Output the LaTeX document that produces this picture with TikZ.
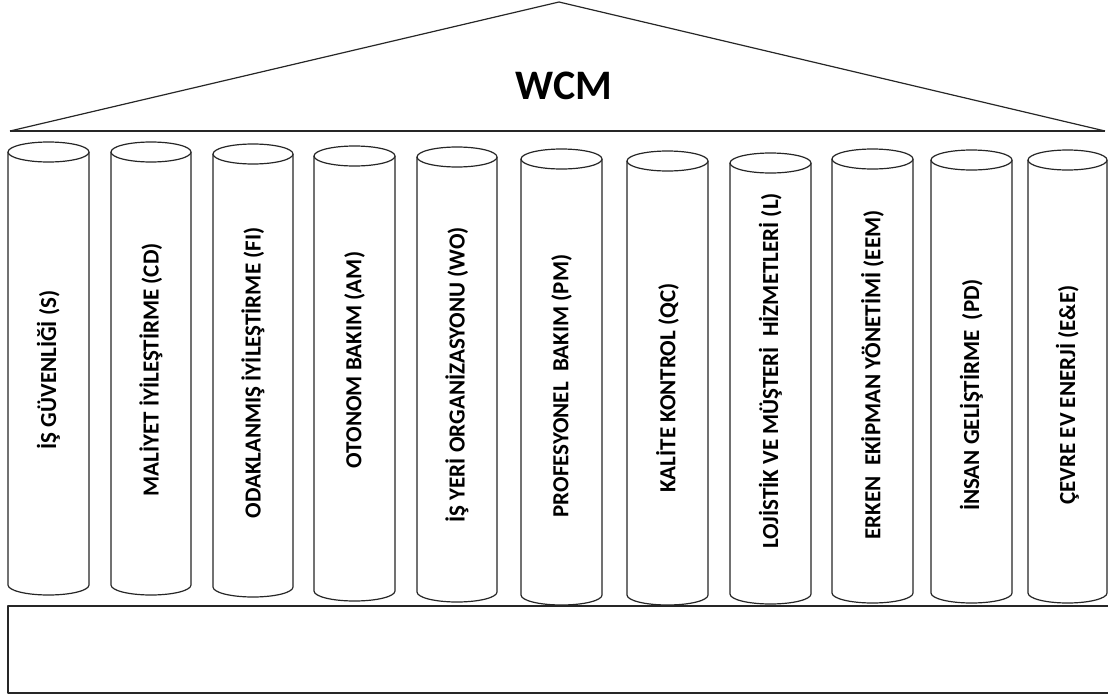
\documentclass[tikz,border=0pt]{standalone}
\usepackage{fontspec}
\setmainfont{Carlito}
\begin{document}
\begin{tikzpicture}[x=1pt, y=-1pt, line width=1.2pt, line join=round,
  pillar/.style={draw=black!85, fill=white},
  roofline/.style={draw=black!85},
  pillarlabel/.style={rotate=90, inner sep=0pt,
    font=\bfseries\fontsize{23}{27}\selectfont},
  titlelabel/.style={inner sep=0pt, font=\bfseries\fontsize{42}{48}\selectfont}]
\useasboundingbox (0,0) rectangle (1108,696);

% roof
\coordinate (apex) at (559,2);
\coordinate (eaveL) at (10,131);
\coordinate (eaveR) at (1105,131);
\draw[roofline] (eaveL) -- (apex) -- (eaveR);
\draw[roofline, line width=1.6pt] (eaveL) -- (eaveR);
\node[titlelabel] (wcm) at (564,86) {WCM};

% pillars: left, right, top rim centre, bottom rim centre, label centre, label
\foreach \n/\xl/\xr/\yt/\yb/\ty/\txt in {
  1/8/89/152/585/370/{İŞ GÜVENLİĞİ (S)},
  2/111/191/152/585/370/{MALİYET İYİLEŞTİRME (CD)},
  3/213/293/154/587/373/{ODAKLANMIŞ İYİLEŞTİRME (FI)},
  4/314/395/156/591/360/{OTONOM BAKIM (AM)},
  5/417/497/157/592/375/{İŞ YERİ ORGANİZASYONU (WO)},
  6/521/602/159/595/386/{PROFESYONEL\ \ BAKIM (PM)},
  7/627/708/161/595/388/{KALİTE KONTROL (QC)},
  8/730/811/163/594/371/{LOJİSTİK VE MÜŞTERİ\ \ HİZMETLERİ (L)},
  9/832/913/159/593/375/{ERKEN\ \ EKİPMAN YÖNETİMİ (EEM)},
  10/931/1012/160/593/395/{İNSAN GELİŞTİRME\ \ (PD)},
  11/1028/1107/160/593/395/{ÇEVRE EV ENERJİ (E\&E)}} {
  \pgfmathsetmacro{\rx}{(\xr-\xl)/2}
  \pgfmathsetmacro{\xc}{(\xr+\xl)/2}
  \coordinate (top\n) at (\xc,\yt);
  \path[pillar] (\xl,\yt) -- (\xl,\yb)
    arc[start angle=180, end angle=0, x radius=\rx, y radius=10]
    -- (\xr,\yt);
  \path[pillar] (top\n) ellipse[x radius=\rx, y radius=10];
  \node[pillarlabel] (label\n) at (\xc,\ty) {\txt};
}

% base slab, open towards the right
\coordinate (baseTL) at (8,606);
\coordinate (baseBL) at (8,693);
\coordinate (baseTR) at (1108,606);
\coordinate (baseBR) at (1108,693);
\draw[roofline] (baseTR) -- (baseTL) -- (baseBL) -- (baseBR);
\end{tikzpicture}
\end{document}
